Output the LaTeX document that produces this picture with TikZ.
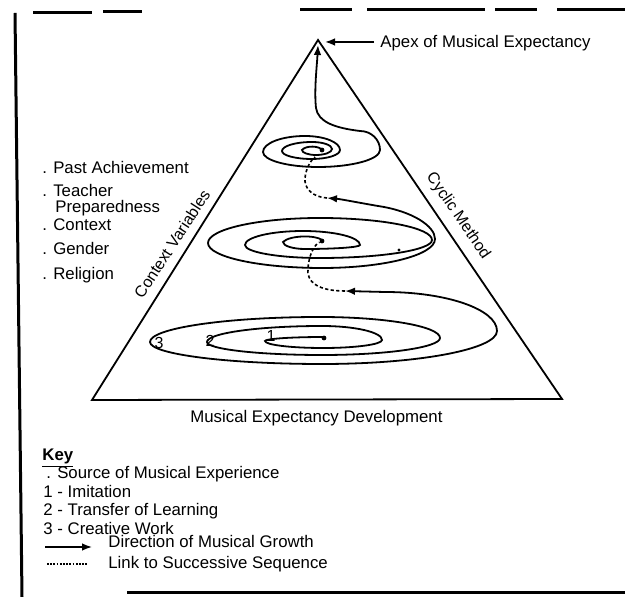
\documentclass[tikz,border=0pt]{standalone}
\usepackage{fontspec}
\setmainfont{Liberation Sans}
\usetikzlibrary{arrows.meta}
\begin{document}
\begin{tikzpicture}[x=0.5pt,y=-0.5pt,
  every node/.style={inner sep=0pt, font=\fontsize{8.4}{10}\selectfont},
  txt/.style={anchor=base west},
  side/.style={font=\fontsize{8}{9}\selectfont},
  edge/.style={line width=0.9pt, line join=miter},
  spiral/.style={line width=0.9pt},
  growth/.style={spiral, -{Latex[length=5pt,width=3.8pt]}},
  link/.style={line width=0.8pt, dash pattern=on 1.6pt off 1.2pt},
  keylink/.style={line width=0.6pt, dash pattern=on 0.9pt off 0.7pt},
  frame/.style={line width=1.5pt},
  num/.style={font=\fontsize{8}{9}\selectfont},
  srcdot/.style={circle, fill, minimum size=2.4pt}
]
\useasboundingbox (0,0) rectangle (625,597);

% page frame (broken rule on top, rules on left and bottom)
\draw[frame] (15,13) -- (22,597);
\draw[frame] (33,13) -- (92,13);
\draw[frame] (103,12) -- (142,12);
\draw[frame] (300,10) -- (352,10);
\draw[frame] (367,10) -- (485,10);
\draw[frame] (495,10) -- (537,10);
\draw[frame] (557,10) -- (625,10);
\draw[frame] (127,592) -- (625,592);

% the pyramid
\coordinate (apex) at (318,40);
\coordinate (bl) at (92,400);
\coordinate (br) at (562,399);
\draw[edge] (apex) -- (br) -- (bl) -- cycle;

% apex label and its pointer
\node[txt] (apexlabel) at (380,48) {Apex of Musical Expectancy};
\coordinate (apexmark) at (325,42);
\draw[line width=0.8pt, -{Latex[length=5pt,width=3.8pt]}] ([xshift=-3pt]apexlabel.west |- apexmark) -- (apexmark);

% side labels
\node[side, rotate=57] (ctxvar) at (172,244) {Context Variables};
\node[side, rotate=-55.5] (cyclic) at (458,216) {Cyclic Method};

% base label
\node[txt] (base) at (190,423) {Musical Expectancy Development};

% list of context variables
\node[txt] (v1) at (42,174) {. Past Achievement};
\node[txt] (v2) at (42,197) {. Teacher};
\node[txt] (v2b) at (55,213) {Preparedness};
\node[txt] (v3) at (42,231) {. Context};
\node[txt] (v4) at (42,255) {. Gender};
\node[txt] (v5) at (42,280) {. Religion};

% ---------- lowest cycle ----------
\node[srcdot] (d3) at (324,338) {};
\draw[growth] (324,337)
  arc[start angle=-90, end angle=-180, x radius=59, y radius=4]
  arc[start angle=-180, end angle=-270, x radius=58, y radius=7]
  arc[start angle=-270, end angle=-360, x radius=59, y radius=8]
  arc[start angle=0, end angle=-90, x radius=60, y radius=14]
  arc[start angle=-90, end angle=-180, x radius=115, y radius=16]
  arc[start angle=-180, end angle=-270, x radius=115, y radius=13]
  arc[start angle=-270, end angle=-360, x radius=118, y radius=17]
  arc[start angle=0, end angle=-90, x radius=120, y radius=21]
  arc[start angle=-90, end angle=-180, x radius=170, y radius=25]
  arc[start angle=-180, end angle=-270, x radius=172, y radius=22]
  arc[start angle=-270, end angle=-360, x radius=175, y radius=33]
  arc[start angle=0, end angle=-90, x radius=112, y radius=39]
  -- (345,291) coordinate (tip3);
\node[num] (n1) at (271,336) {1};
\node[num] (n2) at (210,341) {2};
\node[num] (n3) at (159,343) {3};

% ---------- middle cycle ----------
\node[srcdot] (d2) at (322,241) {};
\node[srcdot, minimum size=1.6pt] (s2) at (399,250) {};
\draw[link] (tip3) .. controls (318,291) and (306,282) .. (308,268)
  .. controls (309,255) and (314,245) .. (d2);
\draw[growth] (322,240) .. controls (316,235) and (290,235) .. (283,242)
  arc[start angle=-180, end angle=-270, x radius=22, y radius=7]
  arc[start angle=-270, end angle=-360, x radius=55, y radius=4]
  arc[start angle=0, end angle=-90, x radius=57, y radius=14]
  arc[start angle=-90, end angle=-180, x radius=58, y radius=14]
  arc[start angle=-180, end angle=-270, x radius=75, y radius=13]
  arc[start angle=-270, end angle=-360, x radius=112, y radius=18]
  arc[start angle=0, end angle=-90, x radius=112, y radius=22]
  arc[start angle=-90, end angle=-180, x radius=112, y radius=25]
  arc[start angle=-180, end angle=-270, x radius=114, y radius=25]
  arc[start angle=-270, end angle=-360, x radius=113, y radius=29]
  .. controls (435,226) and (412,211) .. (378,206)
  .. controls (355,202) and (340,199) .. (327,198) coordinate (tip2);

% ---------- top cycle ----------
\node[srcdot] (d1) at (322,150) {};
\draw[link] (tip2) .. controls (312,197) and (304,188) .. (305,178)
  .. controls (306,168) and (311,160) .. (315,157);
\draw[growth] (322,150) .. controls (320,146) and (306,145) .. (302,150)
  arc[start angle=-180, end angle=-270, x radius=14, y radius=5]
  arc[start angle=-270, end angle=-360, x radius=16, y radius=6]
  arc[start angle=0, end angle=-90, x radius=20, y radius=7]
  arc[start angle=-90, end angle=-180, x radius=30, y radius=9]
  arc[start angle=-180, end angle=-270, x radius=30, y radius=8]
  arc[start angle=-270, end angle=-360, x radius=28, y radius=9]
  arc[start angle=0, end angle=-90, x radius=35, y radius=14]
  arc[start angle=-90, end angle=-180, x radius=42, y radius=16]
  arc[start angle=-180, end angle=-270, x radius=55, y radius=15]
  arc[start angle=-270, end angle=-360, x radius=62, y radius=17]
  arc[start angle=0, end angle=-90, x radius=20, y radius=19]
  .. controls (335,128) and (318,122) .. (316,108)
  .. controls (314,90) and (317,65) .. (318,45);

% ---------- key ----------
\node[txt, font=\fontsize{8.4}{10}\selectfont\bfseries] (key) at (42,460) {\underline{Key}};
\node[txt] (k0) at (46,479) {. Source of Musical Experience};
\node[txt] (k1) at (43,497) {1 - Imitation};
\node[txt] (k2) at (43,516) {2 - Transfer of Learning};
\node[txt] (k3) at (43,534) {3 - Creative Work};
\node[txt] (k4) at (108,547) {Direction of Musical Growth};
\node[txt] (k5) at (108,568) {Link to Successive Sequence};
\coordinate (ka) at (45,547);
\coordinate (kb) at (92,547);
\draw[line width=0.8pt, -{Latex[length=5pt,width=3.8pt]}] (ka) -- (kb);
\coordinate (kc) at (47,564);
\coordinate (kd) at (88,564);
\draw[keylink] (kc) -- (kd);
\end{tikzpicture}
\end{document}
